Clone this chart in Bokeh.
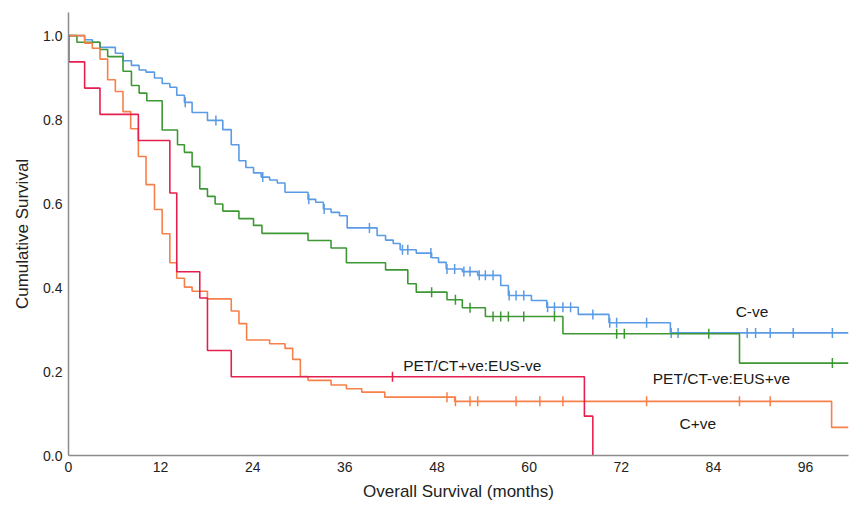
import numpy as np
from bokeh.plotting import figure
from bokeh.models import Range1d, FixedTicker, Label, CustomJSTickFormatter
from bokeh.embed import file_html
from bokeh.resources import INLINE

# ---------------- data ----------------
# C-ve (blue)
cneg_times = [2.1, 3.1, 4.1, 6.1, 7.1, 8.2, 9.2, 10.1, 11.2, 12.2, 13.2, 14.1, 15.1, 16.1,
              18.1, 20.1, 21.2, 22.2, 23.1, 24.1, 25.1, 26.2, 27.2, 28.2, 31.2, 32.2, 33.2,
              34.2, 35.3, 36.3, 40.2, 41.3, 42.3, 43.2, 45.3, 47.3, 48.2, 49.2, 51.3, 53.3,
              56.3, 57.3, 60.3, 62.3, 66.4, 70.4, 78.4]
cneg_surv = [0.99, 0.984, 0.972, 0.958, 0.94, 0.929, 0.918, 0.913, 0.899, 0.886, 0.877, 0.858,
             0.841, 0.817, 0.798, 0.776, 0.74, 0.702, 0.686, 0.673, 0.663, 0.656, 0.649, 0.627,
             0.61, 0.603, 0.587, 0.579, 0.571, 0.542, 0.524, 0.513, 0.505, 0.49, 0.482, 0.471,
             0.46, 0.444, 0.438, 0.429, 0.405, 0.381, 0.369, 0.353, 0.336, 0.316, 0.292]
cneg_cens = [15.2, 19.2, 25.3, 31.3, 33.3, 39.2, 43.5, 44.2, 47.2, 49.3, 50.3, 51.5, 52.3,
             53.5, 54.3, 55.3, 57.4, 58.3, 59.3, 62.4, 63.3, 64.4, 65.4, 68.3, 70.5, 71.4,
             75.3, 78.5, 79.4, 88.4, 89.5, 91.4, 94.4, 99.5]

# PET/CT-ve:EUS+ve (green)
pneg_times = [1.1, 4.1, 5.1, 7.1, 8.2, 9.2, 10.2, 12.2, 14.2, 15.1, 16.1, 17.1, 18.1, 19.1,
              20.1, 22.2, 24.1, 25.2, 31.2, 34.2, 36.2, 41.3, 44.2, 45.3, 49.3, 51.3, 54.3,
              64.4, 87.4]
pneg_surv = [0.984, 0.967, 0.95, 0.915, 0.881, 0.863, 0.845, 0.775, 0.74, 0.722, 0.688, 0.635,
             0.617, 0.599, 0.582, 0.564, 0.548, 0.529, 0.512, 0.494, 0.459, 0.442, 0.409, 0.389,
             0.371, 0.352, 0.331, 0.29, 0.22]
pneg_cens = [47.3, 50.4, 52.3, 55.3, 56.3, 57.3, 59.3, 63.3, 71.4, 72.4, 83.4, 99.5]

# C+ve (orange)
cpos_times = [2.1, 3.1, 4.1, 5.1, 6.1, 7.1, 8.1, 9.1, 10.1, 11.2, 12.2, 13.2, 14.1, 15.1, 16.1,
              18.1, 21.2, 22.2, 23.2, 26.2, 28.2, 29.2, 30.2, 31.2, 34.2, 36.2, 38.2, 41.2,
              50.3, 99.4]
cpos_surv = [0.982, 0.97, 0.944, 0.895, 0.867, 0.819, 0.778, 0.712, 0.645, 0.586, 0.528, 0.459,
             0.422, 0.401, 0.391, 0.373, 0.344, 0.314, 0.275, 0.266, 0.255, 0.229, 0.188, 0.179,
             0.168, 0.159, 0.151, 0.139, 0.129, 0.067]
cpos_cens = [49.3, 50.4, 52.3, 53.3, 58.3, 61.4, 64.4, 75.3, 87.4, 91.4]

# PET/CT+ve:EUS-ve (red)
ppos_times = [0.05, 2.1, 4.1, 9.1, 13.2, 14.1, 17.1, 18.1, 21.2, 67.2, 68.3]
ppos_surv = [0.9375, 0.875, 0.8125, 0.75, 0.625, 0.4375, 0.375, 0.25, 0.1875, 0.09375, 0.0]
ppos_cens = [42.2]

x_ticks = [0, 12, 24, 36, 48, 60, 72, 84, 96]
y_ticks = [0.0, 0.2, 0.4, 0.6, 0.8, 1.0]

X_END = 101.6

groups = [
    ("C-ve", cneg_times, cneg_surv, cneg_cens, X_END, "#5B9BE6"),
    ("PET/CT-ve:EUS+ve", pneg_times, pneg_surv, pneg_cens, X_END, "#3D9834"),
    ("C+ve", cpos_times, cpos_surv, cpos_cens, X_END, "#F6804A"),
    ("PET/CT+ve:EUS-ve", ppos_times, ppos_surv, ppos_cens, None, "#E6204E"),
]

# label positions (data coords, left edge / vertical middle)
labels = [("C-ve", 86.9, 0.343), ("PET/CT-ve:EUS+ve", 76.1, 0.183),
          ("C+ve", 79.6, 0.077), ("PET/CT+ve:EUS-ve", 43.6, 0.214)]


def km_path(times, surv, t_end):
    xs, ys, cur = [0.0], [1.0], 1.0
    for t, s in zip(times, surv):
        xs += [t, t]
        ys += [cur, s]
        cur = s
    if t_end is not None:
        xs.append(t_end)
        ys.append(cur)
    return xs, ys


def value_at(times, surv, t):
    v = 1.0
    for tt, s in zip(times, surv):
        if tt <= t:
            v = s
    return v


p = figure(width=850, height=506, output_backend="svg", toolbar_location=None,
           x_range=Range1d(0, X_END), y_range=Range1d(0, 1.055),
           min_border_left=68, min_border_right=2, min_border_top=12, min_border_bottom=51)
p.outline_line_color = None
p.xgrid.visible = False
p.ygrid.visible = False
p.background_fill_color = "white"

for name, ts, ss, cs, tend, col in groups:
    xs, ys = km_path(ts, ss, tend)
    p.line(xs, ys, line_color=col, line_width=1.6)
    cy = [value_at(ts, ss, c) for c in cs]
    p.scatter(cs, cy, marker="dash", angle=np.pi / 2, size=10, line_color=col, line_width=1.5)

for txt, lx, ly in labels:
    p.add_layout(Label(x=lx, y=ly, text=txt, text_font="Liberation Sans", text_font_size="15.5px",
                       text_baseline="middle", text_align="left", text_color="#1a1a1a"))

for ax in (p.xaxis[0], p.yaxis[0]):
    ax.axis_line_color = "#8c8c8c"
    ax.axis_line_width = 1.5
    ax.major_tick_line_color = None
    ax.minor_tick_line_color = None
    ax.major_label_text_font = "Liberation Sans"
    ax.major_label_text_font_size = "14px"
    ax.major_label_text_color = "#222222"
    ax.axis_label_text_font = "Liberation Sans"
    ax.axis_label_text_font_size = "17px"
    ax.axis_label_text_font_style = "normal"
    ax.axis_label_text_color = "#222222"

p.xaxis.ticker = FixedTicker(ticks=x_ticks)
p.yaxis.ticker = FixedTicker(ticks=y_ticks)
p.yaxis.formatter = CustomJSTickFormatter(code="return tick.toFixed(1);")
p.xaxis.axis_label = "Overall Survival (months)"
p.yaxis.axis_label = "Cumulative Survival"
p.xaxis.major_label_standoff = 0
p.xaxis.axis_label_standoff = 7
p.yaxis.major_label_standoff = 0
p.yaxis.axis_label_standoff = 8

open("out.html", "w").write(file_html(p, INLINE))
